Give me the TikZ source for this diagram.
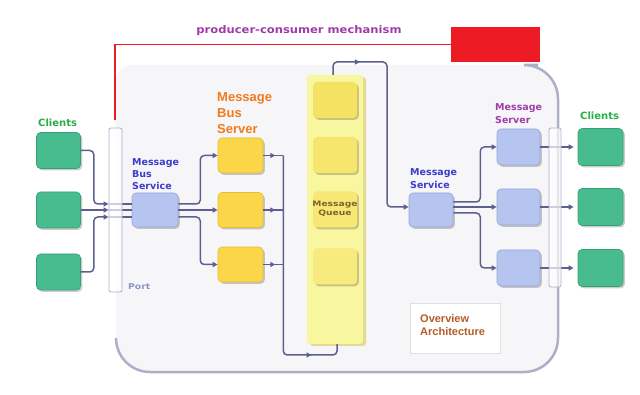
\documentclass[tikz,border=0pt]{standalone}
\usepackage{fontspec}
\setmainfont{DejaVu Sans}
\newfontfamily\labelsans{Liberation Sans}
\usetikzlibrary{arrows.meta,shadows,decorations.markings}

\definecolor{wirecol}{RGB}{92,96,145}
\definecolor{clientgreen}{RGB}{72,188,142}
\definecolor{clientedge}{RGB}{52,160,118}
\definecolor{lavender}{RGB}{182,196,240}
\definecolor{lavedge}{RGB}{150,165,215}
\definecolor{busyellow}{RGB}{250,214,72}
\definecolor{busedge}{RGB}{228,190,50}
\definecolor{queuepale}{RGB}{249,246,160}
\definecolor{queueshade}{RGB}{222,212,120}
\definecolor{queuecell}{RGB}{246,226,98}
\definecolor{portedge}{RGB}{170,175,205}
\definecolor{bgfill}{RGB}{246,246,248}
\definecolor{bgedge}{RGB}{172,175,200}
\definecolor{alarmred}{RGB}{237,28,36}
\definecolor{txtgreen}{RGB}{40,175,70}
\definecolor{txtorange}{RGB}{242,122,28}
\definecolor{txtblue}{RGB}{60,60,205}
\definecolor{txtpurple}{RGB}{160,60,170}
\definecolor{txtbrown}{RGB}{180,92,40}
\definecolor{txtolive}{RGB}{125,100,45}
\definecolor{txtport}{RGB}{140,146,200}

\newcommand\setfs[2]{\fontsize{#1}{#2}\selectfont}

\pgfdeclarelayer{back}
\pgfdeclarelayer{front}
\pgfsetlayers{back,main,front}

\tikzset{
  box/.style={rounded corners=4pt, inner sep=0pt, line width=.6pt,
    drop shadow={shadow xshift=1.8pt, shadow yshift=-1.8pt, fill=black, opacity=.2}},
  client/.style={box, fill=clientgreen, draw=clientedge, minimum width=44pt, minimum height=36pt},
  lavbox/.style={box, fill=lavender, draw=lavedge, minimum width=44pt, minimum height=35pt},
  busbox/.style={box, fill=busyellow, draw=busedge, minimum width=45pt, minimum height=35pt},
  qcell/.style={box, fill=queuecell, draw=none, minimum width=44pt, minimum height=36pt},
  portbar/.style={draw=portedge, fill=white, fill opacity=.7, line width=.8pt,
    rounded corners=2pt, inner sep=0pt, minimum width=13pt},
  wire/.style={draw=wirecol, color=wirecol, line width=1.5pt, rounded corners=4pt},
  tip/.style={-{Triangle[length=5pt,width=5pt]}},
  midtip/.style={postaction={decorate}, decoration={markings,
    mark=at position #1 with {\arrow{Triangle[length=5pt,width=5pt]}}}},
  label/.style={inner sep=0pt, align=left, anchor=west, font=\bfseries},
}

\begin{document}
\begin{tikzpicture}[x=1pt, y=-1pt]
\useasboundingbox (0,0) rectangle (640,395);

% backdrop panel
\begin{pgfonlayer}{back}
  \fill[bgfill] (116,345) [rounded corners=34pt] -- (116,372) -- (558,372) -- (558,65)
    [rounded corners=16pt] -- (116,65) [sharp corners] -- cycle;
  \draw[bgedge, line width=2.5pt] (116,338) [rounded corners=34pt] -- (116,372) -- (558,372) -- (558,65)
    [rounded corners=16pt] -- (538,65);
\end{pgfonlayer}

% producer-consumer link
\node[fill=alarmred, minimum width=89pt, minimum height=35pt, inner sep=0pt] (alarm) at (495.5,44.5) {};
\coordinate (redfoot) at (115,120);
\draw[alarmred, line width=1.2pt] (redfoot) |- (alarm.west);
\node[text=txtpurple, font=\bfseries\setfs{10.5}{12}, inner sep=0pt] (title) at (299,31)
  {\scalebox{1.1}[1]{producer-consumer mechanism}};

% clients on the left
\node[client] (c1) at (58.5,150.5) {};
\node[client] (c2) at (58.5,210) {};
\node[client] (c3) at (58.5,272) {};
\node[label, text=txtgreen, font=\bfseries\setfs{10}{12}] (clientsL) at (38,123) {Clients};

% message bus service
\node[lavbox, minimum width=46pt, minimum height=34pt] (mbs) at (155,210) {};
\node[label, text=txtblue, font=\bfseries\setfs{9.5}{12}] (mbsText) at (132,174) {Message\\Bus\\Service};

% message bus servers
\node[busbox] (yb1) at (240.5,155.5) {};
\node[busbox] (yb2) at (240.5,210) {};
\node[busbox] (yb3) at (240.5,264.5) {};
\node[label, text=txtorange, font=\labelsans\bfseries\setfs{13}{16}] (ybText) at (217,113) {Message\\Bus\\Server};

% message queue
\node[fill=queuepale, rounded corners=3pt, minimum width=56pt, minimum height=269pt, inner sep=0pt,
  drop shadow={shadow xshift=3pt, shadow yshift=-2pt, fill=queueshade, opacity=.8}] (qcol) at (335,209.5) {};
\node[qcell] (q1) at (335,100) {};
\node[qcell, fill=queuecell!80!queuepale] (q2) at (335,155) {};
\node[qcell, fill=queuecell!70!queuepale] (q3) at (335,209.5) {};
\node[qcell, fill=queuecell!55!queuepale] (q4) at (335,266.5) {};
\node[text=txtolive, font=\bfseries\setfs{7.5}{9}, align=center, inner sep=0pt] (qText) at (335,209)
  {\scalebox{1.22}[1]{Message}\\\scalebox{1.22}[1]{Queue}};

% message service
\node[lavbox, minimum width=44pt, minimum height=34pt] (ms) at (431,210) {};
\node[label, text=txtblue, font=\bfseries\setfs{9.5}{12.5}] (msText) at (410,178.5) {Message\\Service};

% message servers
\node[lavbox, minimum width=43pt, minimum height=36pt] (s1) at (518.5,147) {};
\node[lavbox, minimum width=43pt, minimum height=36pt] (s2) at (518.5,207) {};
\node[lavbox, minimum width=43pt, minimum height=36pt] (s3) at (518.5,268) {};
\node[label, text=txtpurple, font=\bfseries\setfs{9.5}{12.5}] (sText) at (495,113.5) {Message\\Server};

% clients on the right
\node[client, minimum width=45pt, minimum height=37pt] (rc1) at (600.5,147) {};
\node[client, minimum width=45pt, minimum height=37pt] (rc2) at (600.5,207) {};
\node[client, minimum width=45pt, minimum height=37pt] (rc3) at (600.5,268) {};
\node[label, text=txtgreen, font=\bfseries\setfs{10}{12}] (clientsR) at (580,116) {Clients};

% overview caption
\node[draw=black!12, fill=white, line width=.8pt, minimum width=90pt, minimum height=50pt, inner sep=0pt] (ovbox) at (455,328) {};
\node[label, text=txtbrown, font=\labelsans\bfseries\setfs{11}{12.5}] (ovText) at (420,325) {Overview\\Architecture};

% ports
\begin{pgfonlayer}{front}
  \node[portbar, minimum height=164pt] (lport) at (115.5,210) {};
  \node[portbar, minimum width=12pt, minimum height=159pt] (rport) at (555,207.5) {};
\end{pgfonlayer}
\node[label, text=txtport, font=\bfseries\setfs{8}{10}] (portText) at (128,287) {\scalebox{1.15}[1]{Port}};

% clients into the port
\draw[wire, tip] (c1.east) -- ++(13,0) |- ([yshift=6pt]lport.west);
\draw[wire, tip] (c2.east) -- (lport.west);
\draw[wire, tip] (c3.east) -- ++(13,0) |- ([yshift=-7pt]lport.west);
\draw[wire] ([yshift=6pt]lport.west) -- ([yshift=6pt]mbs.west);
\draw[wire] (lport.west) -- (mbs.west);
\draw[wire] ([yshift=-7pt]lport.west) -- ([yshift=-7pt]mbs.west);

% bus service to bus servers
\draw[wire, tip] ([yshift=6pt]mbs.east) -- ++(22,0) |- (yb1.west);
\draw[wire, tip] (mbs.east) -- (yb2.west);
\draw[wire, tip] ([yshift=-7pt]mbs.east) -- ++(22,0) |- (yb3.west);

% bus servers into the queue
\draw[wire, midtip=0.6] (yb1.east) -- ++(20,0);
\draw[wire, midtip=0.6] (yb2.east) -- ++(20,0);
\draw[wire, midtip=0.6] (yb3.east) -- ++(20,0);
\draw[wire, midtip=226pt] ([xshift=20pt]yb1.east) -- ++(0,199.5) -| ([xshift=2pt]qcol.south);

% queue to message service
\coordinate (toprail) at (387,62);
\draw[wire, tip, midtip=38pt] ([xshift=-2pt]qcol.north) |- (toprail) |- ([yshift=3pt]ms.west);

% message service to servers
\draw[wire, tip] ([yshift=8pt]ms.east) -- ++(27,0) |- (s1.west);
\draw[wire, tip] ([yshift=3pt]ms.east) -- (s2.west);
\draw[wire, tip] ([yshift=-3pt]ms.east) -- ++(27,0) |- (s3.west);

% servers to clients
\draw[wire, tip] (s1.east) -- ([xshift=-4pt]rc1.west);
\draw[wire, tip] (s2.east) -- ([xshift=-4pt]rc2.west);
\draw[wire, tip] (s3.east) -- ([xshift=-4pt]rc3.west);
\end{tikzpicture}
\end{document}
